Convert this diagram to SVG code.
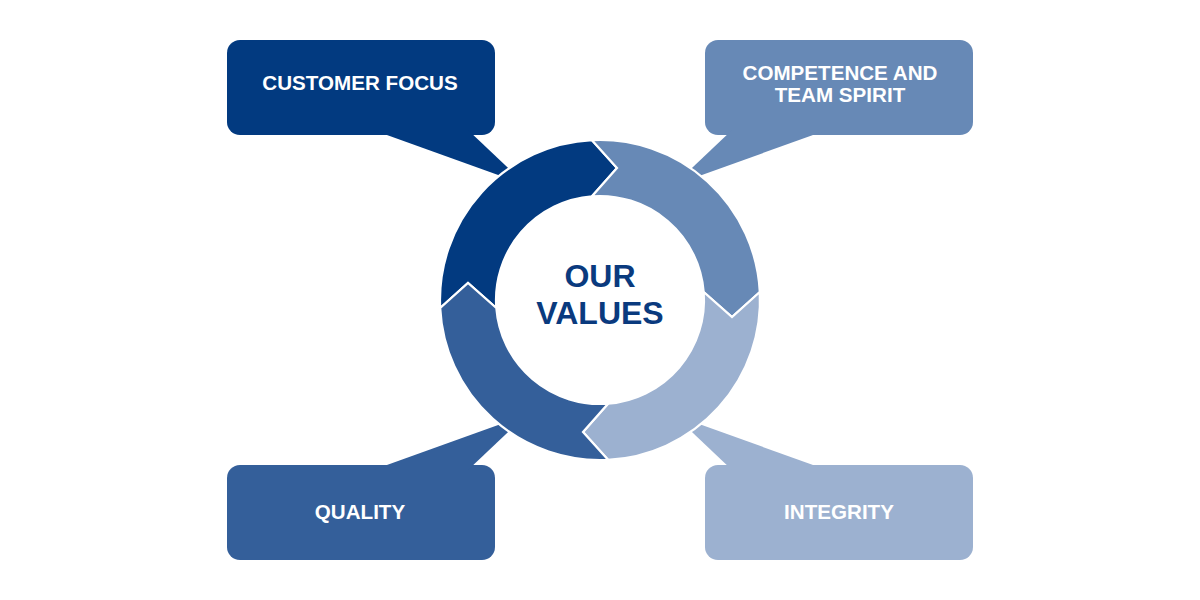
<svg xmlns="http://www.w3.org/2000/svg" width="1200" height="600" viewBox="0 0 1200 600">
<style>
.lbl{font-family:"Liberation Sans",Arial,sans-serif;font-weight:bold;font-size:20.6px;fill:#ffffff;text-anchor:middle}
.ctr{font-family:"Liberation Sans",Arial,sans-serif;font-weight:bold;font-size:32px;fill:#0a3a7e;text-anchor:middle}
.seg{stroke:#ffffff;stroke-width:2.2;stroke-linejoin:miter}
.c1{fill:#023a80}.c2{fill:#6789b6}.c3{fill:#9cb1d0}.c4{fill:#345f9a}
</style>
<defs>
<path id="segShape" d="M440.2,308 A160,160 0 0 1 592,140.2 L617,168 L592,196.3 A104,104 0 0 0 496.3,308 L468,283 Z"/>
</defs>
<rect width="1200" height="600" fill="#ffffff"/>
<g id="customer-focus">
<rect x="227" y="40" width="268" height="95" rx="13" class="c1"/>
<polygon points="373,130 468,130 526,185" class="c1"/>
<text x="360" y="90" class="lbl">CUSTOMER FOCUS</text>
</g>
<g id="competence">
<rect x="705" y="40" width="268" height="95" rx="13" class="c2"/>
<polygon points="827,130 732,130 674,185" class="c2"/>
<text x="840" y="80" class="lbl">COMPETENCE AND</text>
<text x="840" y="102" class="lbl">TEAM SPIRIT</text>
</g>
<g id="quality">
<rect x="227" y="465" width="268" height="95" rx="13" class="c4"/>
<polygon points="373,470 468,470 526,415" class="c4"/>
<text x="360" y="519" class="lbl">QUALITY</text>
</g>
<g id="integrity">
<rect x="705" y="465" width="268" height="95" rx="13" class="c3"/>
<polygon points="827,470 732,470 674,415" class="c3"/>
<text x="839" y="519" class="lbl">INTEGRITY</text>
</g>
<g id="connectors">
<use href="#segShape" class="seg c1"/>
<use href="#segShape" class="seg c2" transform="rotate(90 600 300)"/>
<use href="#segShape" class="seg c3" transform="rotate(180 600 300)"/>
<use href="#segShape" class="seg c4" transform="rotate(270 600 300)"/>
</g>
<g id="our-values">
<text x="600" y="287" class="ctr">OUR</text>
<text x="600" y="324" class="ctr">VALUES</text>
</g>
</svg>
